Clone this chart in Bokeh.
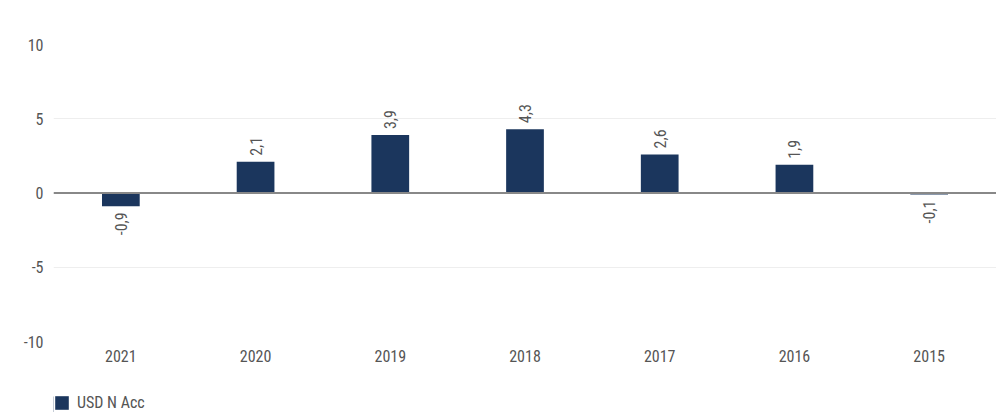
import math
from bokeh.plotting import figure
from bokeh.layouts import column
from bokeh.models import ColumnDataSource, Range1d, FactorRange, Span, Legend, LegendItem, FixedTicker
from bokeh.core.properties import value
from bokeh.embed import file_html
from bokeh.resources import INLINE

years = ["2021", "2020", "2019", "2018", "2017", "2016", "2015"]
returns = [-0.9, 2.1, 3.9, 4.3, 2.6, 1.9, -0.1]
series_name = "USD N Acc"
y_ticks = [-10, -5, 0, 5, 10]

FONT = "Liberation Sans Narrow, Roboto Condensed, Arial Narrow, sans-serif"
TXT = "#555555"
BAR = "#1b365d"

labels = [("%.1f" % v).replace(".", ",") for v in returns]
pos = [v >= 0 for v in returns]
src = ColumnDataSource(dict(x=years, top=returns, label=labels))
src_pos = ColumnDataSource(dict(x=[y for y, p in zip(years, pos) if p],
                                y=[v for v, p in zip(returns, pos) if p],
                                label=[l for l, p in zip(labels, pos) if p]))
src_neg = ColumnDataSource(dict(x=[y for y, p in zip(years, pos) if not p],
                                y=[v for v, p in zip(returns, pos) if not p],
                                label=[l for l, p in zip(labels, pos) if not p]))

p = figure(width=996, height=380, x_range=FactorRange(*years), y_range=Range1d(-10, 10),
           output_backend="svg", toolbar_location=None,
           min_border_left=53, min_border_right=0, min_border_top=44, min_border_bottom=39)
p.outline_line_color = None

r = p.vbar(x="x", top="top", bottom=0, width=0.28, source=src, color=BAR, line_color=None)

p.text(x="x", y="y", text="label", source=src_pos, angle=math.pi / 2, y_offset=-6,
       text_align="left", text_baseline="middle", text_font=value(FONT),
       text_font_size="16px", text_color=TXT)
p.text(x="x", y="y", text="label", source=src_neg, angle=math.pi / 2, y_offset=6,
       text_align="right", text_baseline="middle", text_font=value(FONT),
       text_font_size="16px", text_color=TXT)

p.add_layout(Span(location=0, dimension="width", line_color="#888888", line_width=2))

p.xgrid.grid_line_color = None
p.ygrid.grid_line_color = "#eeeeee"
p.ygrid.grid_line_width = 1
p.yaxis.ticker = FixedTicker(ticks=y_ticks)
p.yaxis.major_label_overrides = {t: str(t) for t in y_ticks}

for ax in (p.xaxis[0], p.yaxis[0]):
    ax.axis_label = None
    ax.axis_line_color = None
    ax.major_tick_line_color = None
    ax.minor_tick_line_color = None
    ax.major_tick_out = 0
    ax.major_tick_in = 0
    ax.minor_tick_out = 0
    ax.minor_tick_in = 0
    ax.major_label_text_font = FONT
    ax.major_label_text_font_size = "16px"
    ax.major_label_text_color = TXT
p.yaxis.major_label_standoff = 10
p.xaxis.major_label_standoff = 8

# legend strip below the chart
lf = figure(width=996, height=32, x_range=Range1d(0, 1), y_range=Range1d(0, 1),
            x_axis_type=None, y_axis_type=None, output_backend="svg", toolbar_location=None,
            min_border=0)
lf.outline_line_color = None
lf.xgrid.grid_line_color = None
lf.ygrid.grid_line_color = None
# proxy renderer, kept outside the visible range, only for the legend swatch
proxy = ColumnDataSource(dict(x=[-10.0], top=[0.5]))
dummy = lf.vbar(x="x", top="top", bottom=0, width=0.1, source=proxy, color=BAR, line_color=None)

legend = Legend(items=[LegendItem(label=series_name, renderers=[dummy])],
                location=(0, 0), orientation="horizontal",
                label_text_font=FONT, label_text_font_size="16px", label_text_color=TXT,
                glyph_width=17, glyph_height=17, border_line_color=None,
                background_fill_alpha=0, padding=0, margin=0, spacing=8,
                label_standoff=7, label_height=17)
lf.add_layout(legend)

open("out.html", "w").write(file_html(column(p, lf), INLINE))
